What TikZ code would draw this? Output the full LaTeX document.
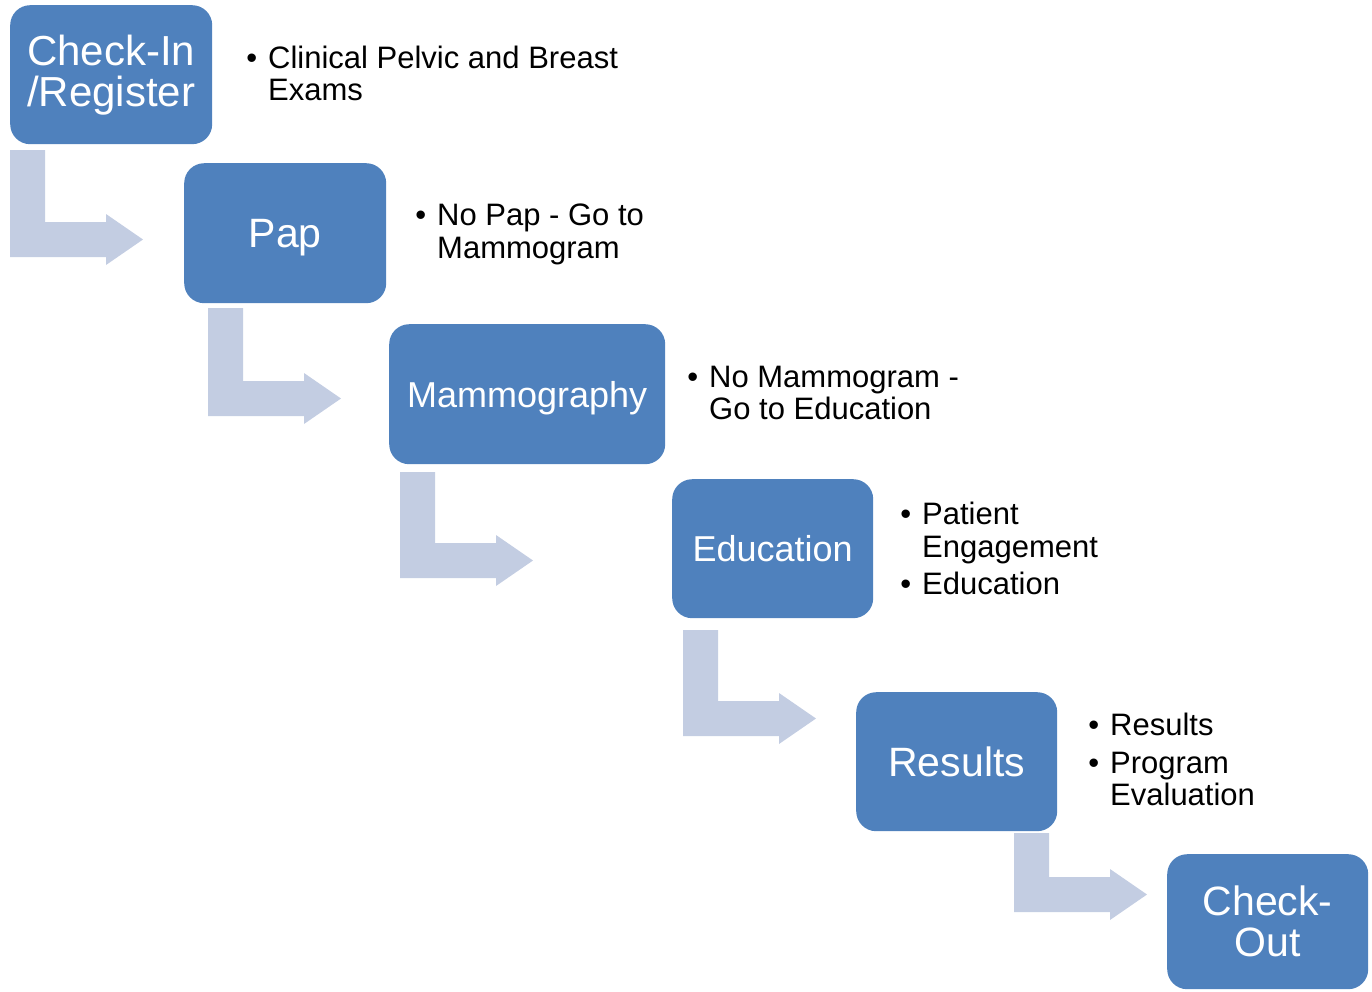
\documentclass[tikz,border=0pt]{standalone}
\usepackage{fontspec}
\setmainfont{Liberation Sans}
\definecolor{boxblue}{HTML}{4F81BD}
\definecolor{arrowfill}{RGB}{195,205,226}
\tikzset{
  stage/.style={fill=boxblue, rounded corners=20pt, anchor=north west, inner sep=0pt,
                text=white, align=center, minimum height=139pt, minimum width=201pt},
  bigtext/.style={font=\fontsize{41}{41}\selectfont},
  midtext/.style={font=\fontsize{36}{40}\selectfont},
  oneline/.style={text height=29.5pt, text depth=0pt},
  oneline36/.style={text height=26pt, text depth=0pt},
  itemline/.style={anchor=base west, inner sep=0pt, font=\fontsize{31}{33}\selectfont, text=black},
}
\newcommand\bul{\llap{\textbullet\hspace{11pt}}}
\newcommand\bentarrow[3]{%
  \fill[arrowfill] (#1,#2) -- (#1+35,#2) |- (#1+96,#3-35) -- (#1+96,#3-43)
    -- (#1+133,#3-17.5) -- (#1+96,#3+8) -- (#1+96,#3) -- (#1,#3) -- cycle;}
\begin{document}
\begin{tikzpicture}[x=1pt,y=-1pt]
\useasboundingbox (0,0) rectangle (1372,991);

% bent arrows
\bentarrow{10}{150}{257}
\bentarrow{208}{308}{416}
\bentarrow{400}{472}{578}
\bentarrow{683}{630}{736}
\bentarrow{1014}{833}{912}

% stages
\node[stage, font=\fontsize{42}{41}\selectfont, minimum width=202pt] (checkin) at (10,5) {Check-In\\/Register};
\node[stage, bigtext, oneline, minimum width=202pt, minimum height=140pt] (pap) at (184,163) {Pap};
\node[stage, midtext, oneline36, minimum width=276pt, minimum height=140pt] (mammo) at (389,324) {Mammography};
\node[stage, midtext, oneline36] (edu) at (672,479) {Education};
\node[stage, bigtext, oneline] (results) at (856,692) {Results};
\node[stage, bigtext, minimum height=135pt] (checkout) at (1167,854) {Check-\\Out};

% bullet texts
\node[itemline] (t1a) at (268,68) {\bul Clinical Pelvic and Breast};
\node[itemline] (t1b) at (268,100) {Exams};

\node[itemline] (t2a) at (437,225) {\bul No Pap - Go to};
\node[itemline] (t2b) at (437,258) {Mammogram};

\node[itemline] (t3a) at (709,387) {\bul No Mammogram -};
\node[itemline] (t3b) at (709,419) {Go to Education};

\node[itemline] (t4a) at (922,524) {\bul Patient};
\node[itemline] (t4b) at (922,557) {Engagement};
\node[itemline] (t4c) at (922,594) {\bul Education};

\node[itemline] (t5a) at (1110,735) {\bul Results};
\node[itemline] (t5b) at (1110,773) {\bul Program};
\node[itemline] (t5c) at (1110,805) {Evaluation};
\end{tikzpicture}
\end{document}
